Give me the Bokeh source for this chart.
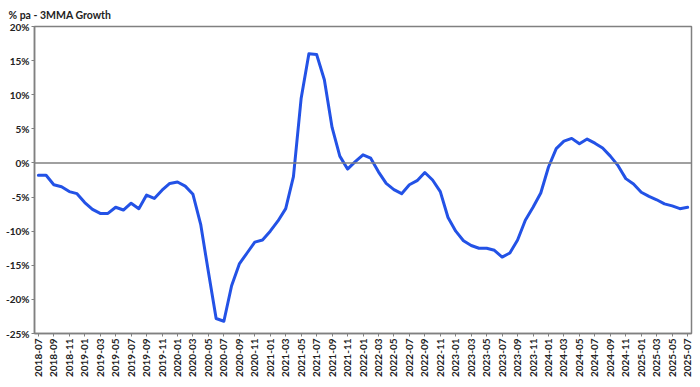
import math
from bokeh.plotting import figure
from bokeh.models import FixedTicker, Span, Range1d
from bokeh.embed import file_html
from bokeh.resources import INLINE

months = [f"{y}-{m:02d}" for y in range(2018, 2026) for m in range(1, 13)]
months = months[months.index("2018-07"):months.index("2025-07") + 1]

growth = [
    -1.8, -1.8, -3.2, -3.5, -4.2, -4.5, -5.8, -6.8, -7.4, -7.4,
    -6.5, -6.9, -5.9, -6.7, -4.7, -5.2, -4.0, -3.0, -2.8, -3.4,
    -4.6, -9.0, -16.0, -22.8, -23.2, -18.0, -14.8, -13.2, -11.6, -11.3,
    -10.0, -8.5, -6.7, -2.0, 9.5, 16.0, 15.9, 12.2, 5.2, 1.0,
    -0.9, 0.2, 1.2, 0.7, -1.3, -3.0, -3.9, -4.5, -3.2, -2.6,
    -1.4, -2.5, -4.2, -8.0, -10.0, -11.4, -12.1, -12.5, -12.5, -12.8,
    -13.8, -13.2, -11.3, -8.4, -6.5, -4.4, -0.6, 2.1, 3.2, 3.6,
    2.8, 3.5, 2.9, 2.2, 1.0, -0.4, -2.3, -3.1, -4.3, -4.9,
    -5.4, -6.0, -6.3, -6.7, -6.5,
]

y_ticks = [-25, -20, -15, -10, -5, 0, 5, 10, 15, 20]
y_tick_labels = ["-25%", "-20%", "-15%", "-10%", "-5%", "0%", "5%", "10%", "15%", "20%"]
title_text = "% pa - 3MMA Growth"

FONT = "Lato"
GREY = "#808080"

idx = list(range(len(months)))

p = figure(width=698, height=385, output_backend="svg", toolbar_location=None,
           x_range=Range1d(-0.5, len(months) - 0.5), y_range=Range1d(-25, 20),
           min_border_left=34, min_border_right=7, min_border_top=26, min_border_bottom=52,
           title=title_text)

p.title.text_font = FONT
p.title.text_font_size = "10.5px"
p.title.text_font_style = "bold"
p.title.text_color = "#222222"
p.title.align = "left"
p.title.offset = -26
p.title.standoff = 12

p.xgrid.visible = False
p.ygrid.visible = False
p.outline_line_color = GREY
p.outline_line_width = 1.5
p.background_fill_color = "white"
p.border_fill_color = "white"

p.add_layout(Span(location=0, dimension="width", line_color=GREY, line_width=1.5))

p.line(idx, growth, line_color="#2352E6", line_width=3, line_join="round", line_cap="round")

p.yaxis.ticker = FixedTicker(ticks=y_ticks)
p.yaxis.major_label_overrides = {t: l for t, l in zip(y_ticks, y_tick_labels)}
p.xaxis.ticker = FixedTicker(ticks=idx[::2])
p.xaxis.major_label_overrides = {i: months[i] for i in idx[::2]}
p.xaxis.major_label_orientation = math.pi / 2

for ax in (p.xaxis[0], p.yaxis[0]):
    ax.axis_line_color = GREY
    ax.axis_line_width = 1.5
    ax.major_tick_line_color = GREY
    ax.major_tick_out = 3
    ax.major_tick_in = 0
    ax.minor_tick_line_color = None
    ax.major_label_text_font = FONT
    ax.major_label_text_font_style = "bold"
    ax.major_label_text_font_size = "10px"
    ax.major_label_text_color = "#222222"
    ax.major_label_standoff = 2

open("out.html", "w").write(file_html(p, INLINE))
